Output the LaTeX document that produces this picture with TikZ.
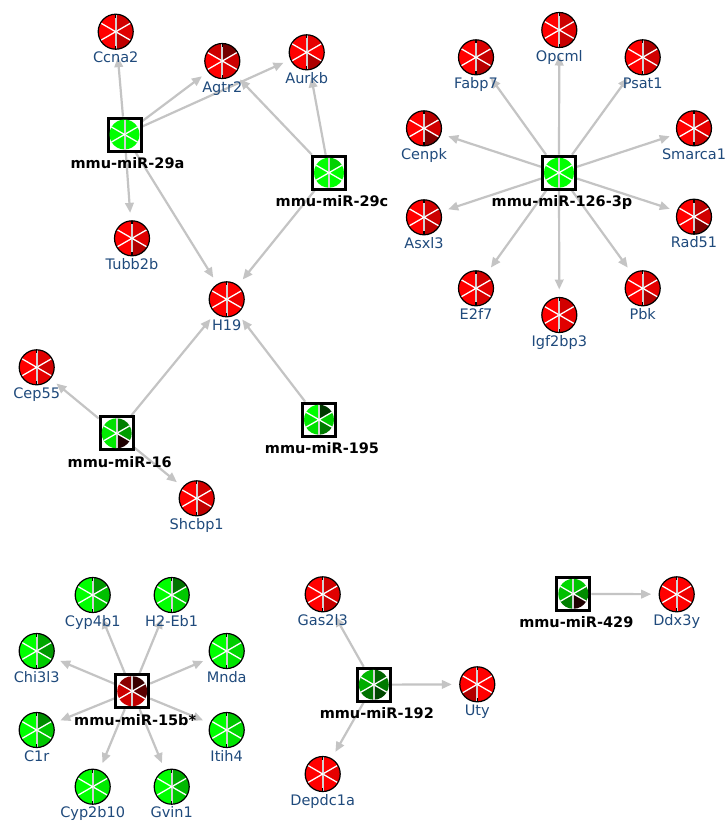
\documentclass[tikz,border=0pt]{standalone}
\usepackage{fontspec}
\setmainfont{DejaVu Sans}
\usetikzlibrary{arrows.meta}
\definecolor{labblue}{HTML}{1F4A7C}
\definecolor{edgegray}{HTML}{C4C4C4}
\pgfdeclarelayer{edgelayer}
\pgfsetlayers{edgelayer,main}
\tikzset{
  genebase/.style={circle, minimum size=35pt, inner sep=0pt, outer sep=0pt},
  mirbase/.style={rectangle, draw=black, line width=3pt, fill=white, minimum size=33pt, inner sep=0pt},
  edge/.style={draw=edgegray, line width=2.2pt, -{Triangle[length=10pt,width=8.5pt]}, shorten >=8pt},
  tlab/.style={text=labblue, font=\fontsize{14.5}{16}\selectfont, anchor=base, inner sep=0pt},
  mlab/.style={text=black, font=\fontsize{14.5}{16}\selectfont\bfseries, anchor=base, inner sep=0pt},
  divw/.style={white, line width=1.3pt},
  divg/.style={draw=gray!35, line width=2pt},
}
\newcommand\piewedges[8]{%
  \fill[#3] (#1) -- ++(90:#2) arc[start angle=90,end angle=30,radius=#2] -- cycle;
  \fill[#4] (#1) -- ++(30:#2) arc[start angle=30,end angle=-30,radius=#2] -- cycle;
  \fill[#5] (#1) -- ++(-30:#2) arc[start angle=-30,end angle=-90,radius=#2] -- cycle;
  \fill[#6] (#1) -- ++(-90:#2) arc[start angle=-90,end angle=-150,radius=#2] -- cycle;
  \fill[#7] (#1) -- ++(-150:#2) arc[start angle=-150,end angle=-210,radius=#2] -- cycle;
  \fill[#8] (#1) -- ++(150:#2) arc[start angle=150,end angle=90,radius=#2] -- cycle;
  \draw[divw] (#1) -- ++(30:#2) (#1) -- ++(150:#2) (#1) -- ++(-30:#2) (#1) -- ++(-150:#2);
  \draw[divg] (#1) -- ++(90:#2) (#1) -- ++(-90:#2);
  \fill[white] (#1) circle[radius=1.3pt];
}
\newcommand\genenode[9]{%
  \node[genebase] (#1) at (#2) {};
  \piewedges{#1.center}{17.5pt}{#4}{#5}{#6}{#7}{#8}{#9}
  \draw[line width=1.2pt] (#1.center) circle[radius=17.5pt];
  \draw[line width=1.4pt] (#1.center) ++(0,17.5pt) -- ++(0,-3.5pt) (#1.center) ++(0,-17.5pt) -- ++(0,3.5pt);
  \node[tlab] at ([yshift=-31pt]#1.center) {#3};
}
\newcommand\mirnanode[9]{%
  \node[mirbase] (#1) at (#2) {};
  \piewedges{#1.center}{15pt}{#4}{#5}{#6}{#7}{#8}{#9}
  \node[mlab] at ([xshift=3pt,yshift=-34pt]#1.center) {#3};
}
\begin{document}
\begin{tikzpicture}[x=1pt,y=1pt]
\useasboundingbox (0,0) rectangle (728,-823);
\begin{pgfonlayer}{edgelayer}
\fill[white] (0,0) rectangle (728,-823);
\end{pgfonlayer}

% ---- top-left cluster
\genenode{ccna2}{115.7,-31.7}{Ccna2}{red!82!black}{red!88!black}{red!75!black}{red}{red}{red}
\genenode{agtr2}{222.3,-61}{Agtr2}{red!45!black}{red!80!black}{red!88!black}{red}{red}{red!80!black}
\genenode{aurkb}{306.7,-52.3}{Aurkb}{red!90!black}{red}{red!68!black}{red}{red}{red}
\genenode{tubb2b}{132,-238.3}{Tubb2b}{red!85!black}{red!88!black}{red!70!black}{red}{red}{red}
\genenode{h19}{226.7,-299.3}{H19}{red}{red!93!black}{red}{red}{red}{red}
\genenode{cep55}{36.7,-367.3}{Cep55}{red!88!black}{red!82!black}{red!90!black}{red}{red}{red}
\genenode{shcbp1}{196.7,-498.3}{Shcbp1}{red!82!black}{red!90!black}{red!75!black}{red}{red}{red}

\mirnanode{mir29a}{124.5,-134.5}{mmu-miR-29a}{green}{green}{green}{green}{green}{green}
\mirnanode{mir29c}{329,-172.7}{mmu-miR-29c}{green!82!black}{green}{green}{green}{green}{green}
\mirnanode{mir16}{116.7,-433.3}{mmu-miR-16}{green!50!black}{green!62!black}{red!12!black}{green!92!black}{green!92!black}{green!88!black}
\mirnanode{mir195}{319,-419.7}{mmu-miR-195}{green!22!black}{green!80!black}{green!48!black}{green!88!black}{green!92!black}{green}

% ---- miR-126-3p cluster
\mirnanode{mir126}{559,-172.7}{mmu-miR-126-3p}{green}{green}{green}{green}{green}{green}
\genenode{opcml}{559.3,-30}{Opcml}{red!80!black}{red!88!black}{red!78!black}{red}{red}{red}
\genenode{fabp7}{476,-57.3}{Fabp7}{red!85!black}{red!78!black}{red!72!black}{red}{red}{red}
\genenode{psat1}{642.7,-57.3}{Psat1}{red!70!black}{red!82!black}{red!85!black}{red}{red}{red}
\genenode{cenpk}{424,-128.3}{Cenpk}{red!72!black}{red!82!black}{red!50!black}{red}{red}{red}
\genenode{smarca1}{694,-128.3}{Smarca1}{red!85!black}{red!90!black}{red!82!black}{red}{red}{red}
\genenode{asxl3}{424,-217.3}{Asxl3}{red!82!black}{red!80!black}{red!75!black}{red}{red}{red}
\genenode{rad51}{694,-216.7}{Rad51}{red!75!black}{red!82!black}{red!50!black}{red}{red}{red}
\genenode{e2f7}{476,-288.3}{E2f7}{red!82!black}{red!90!black}{red!85!black}{red}{red}{red}
\genenode{igf2bp3}{559.3,-315}{Igf2bp3}{red!82!black}{red!92!black}{red!88!black}{red}{red}{red}
\genenode{pbk}{642.7,-288.3}{Pbk}{red!85!black}{red!90!black}{red!70!black}{red}{red}{red}

% ---- miR-15b* cluster
\mirnanode{mir15b}{132.2,-691.2}{mmu-miR-15b*}{red!22!black}{red!35!black}{red!75!black}{red!82!black}{red!80!black}{red!55!black}
\genenode{cyp4b1}{92.7,-595}{Cyp4b1}{green!60!black}{green!75!black}{green!80!black}{green}{green}{green}
\genenode{h2eb1}{171.7,-595}{H2-Eb1}{green!45!black}{green!78!black}{green!85!black}{green}{green}{green}
\genenode{chi3l3}{36.7,-651}{Chi3l3}{green!65!black}{green!60!black}{green!80!black}{green}{green}{green}
\genenode{mnda}{226.7,-651}{Mnda}{green!80!black}{green!85!black}{green!90!black}{green}{green}{green}
\genenode{c1r}{36.7,-730}{C1r}{green!55!black}{green!78!black}{green!78!black}{green}{green}{green}
\genenode{itih4}{226.7,-730}{Itih4}{green!78!black}{green!85!black}{green!90!black}{green}{green}{green}
\genenode{cyp2b10}{92.7,-786.7}{Cyp2b10}{green!85!black}{green!92!black}{green!92!black}{green}{green}{green}
\genenode{gvin1}{171.7,-786.7}{Gvin1}{green!68!black}{green!72!black}{green!80!black}{green}{green}{green}

% ---- miR-192 cluster
\mirnanode{mir192}{373.8,-684.7}{mmu-miR-192}{green!40!black}{green!48!black}{green!28!black}{green!45!black}{green!68!black}{green!72!black}
\genenode{gas2l3}{322.7,-594.3}{Gas2l3}{red!82!black}{red!88!black}{red!78!black}{red}{red}{red}
\genenode{uty}{477.3,-684.3}{Uty}{red}{red}{red}{red!70!black}{red}{red}
\genenode{depdc1a}{322.7,-774}{Depdc1a}{red}{red!90!black}{red}{red}{red}{red}

% ---- miR-429
\mirnanode{mir429}{573.3,-593.8}{mmu-miR-429}{green!78!black}{green!55!black}{red!12!black}{green!50!black}{green!75!black}{green!85!black}
\genenode{ddx3y}{676.7,-594.3}{Ddx3y}{red}{red!93!black}{red}{red}{red}{red}

\begin{pgfonlayer}{edgelayer}
\foreach \t in {ccna2,agtr2,aurkb,tubb2b,h19} \draw[edge] (mir29a) -- (\t);
\foreach \t in {agtr2,aurkb,h19} \draw[edge] (mir29c) -- (\t);
\foreach \t in {h19,cep55,shcbp1} \draw[edge] (mir16) -- (\t);
\draw[edge] (mir195) -- (h19);
\foreach \t in {opcml,fabp7,psat1,cenpk,smarca1,asxl3,rad51,e2f7,igf2bp3,pbk} \draw[edge] (mir126) -- (\t);
\foreach \t in {cyp4b1,h2eb1,chi3l3,mnda,c1r,itih4,cyp2b10,gvin1} \draw[edge] (mir15b) -- (\t);
\foreach \t in {gas2l3,uty,depdc1a} \draw[edge] (mir192) -- (\t);
\draw[edge] (mir429) -- (ddx3y);
\end{pgfonlayer}
\end{tikzpicture}
\end{document}
